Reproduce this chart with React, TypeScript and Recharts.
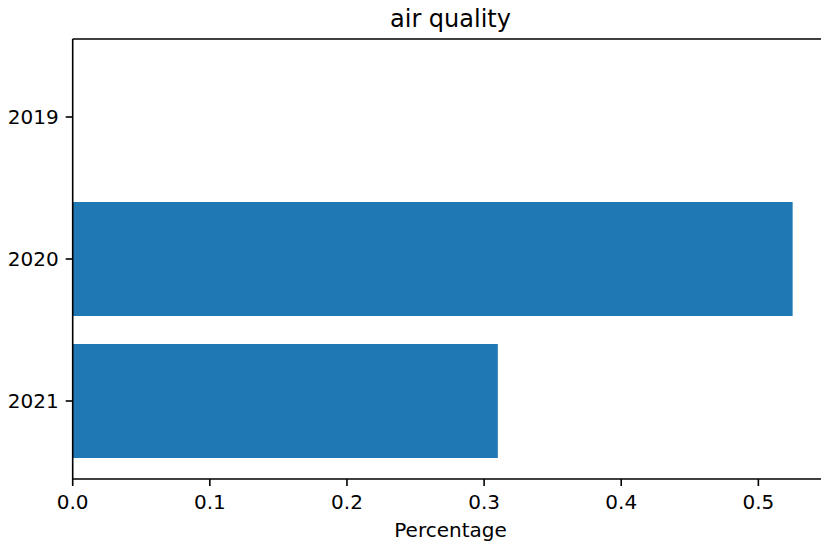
import React from 'react';
import { BarChart, Bar, XAxis, YAxis } from 'recharts';

// values
const years = ['2019', '2020', '2021'];
const percentage = [0, 0.525, 0.31];
const xTicks = [0, 0.1, 0.2, 0.3, 0.4, 0.5];

const data = years.map((year, i) => ({ year, percentage: percentage[i] }));

const font = '"DejaVu Sans", sans-serif';
const tickStyle = { fontSize: 20, fill: '#000', fontFamily: font };
const spine = { stroke: '#000', strokeWidth: 1.6 };

export default function App() {
  return (
    <div
      style={{
        position: 'absolute',
        left: 0,
        top: 0,
        width: 821,
        height: 544,
        overflow: 'hidden',
        background: '#fff',
        fontFamily: font,
      }}
    >
      <BarChart
        width={840}
        height={544}
        data={data}
        layout="vertical"
        margin={{ top: 38, right: 11.7, left: 0, bottom: 0 }}
      >
        <XAxis
          xAxisId="top"
          orientation="top"
          type="number"
          domain={[0, 0.551]}
          height={1}
          ticks={xTicks}
          tick={false}
          tickLine={false}
          axisLine={spine}
          label={{ value: 'air quality', position: 'top', offset: 11, fontSize: 24, fill: '#000', fontFamily: font }}
        />
        <XAxis
          type="number"
          domain={[0, 0.551]}
          ticks={xTicks}
          allowDataOverflow
          tickFormatter={(v: number) => v.toFixed(1)}
          height={65}
          tick={tickStyle}
          tickSize={7}
          tickMargin={9}
          tickLine={spine}
          axisLine={spine}
          label={{ value: 'Percentage', position: 'insideBottom', offset: 7, fontSize: 20, fill: '#000', fontFamily: font }}
        />
        <YAxis
          type="category"
          dataKey="year"
          width={72.7}
          padding={{ top: 7, bottom: 7 }}
          tick={tickStyle}
          tickSize={7}
          tickMargin={7}
          tickLine={spine}
          axisLine={spine}
        />
        <Bar dataKey="percentage" fill="#1f77b4" barSize={114} isAnimationActive={false} />
      </BarChart>
    </div>
  );
}
